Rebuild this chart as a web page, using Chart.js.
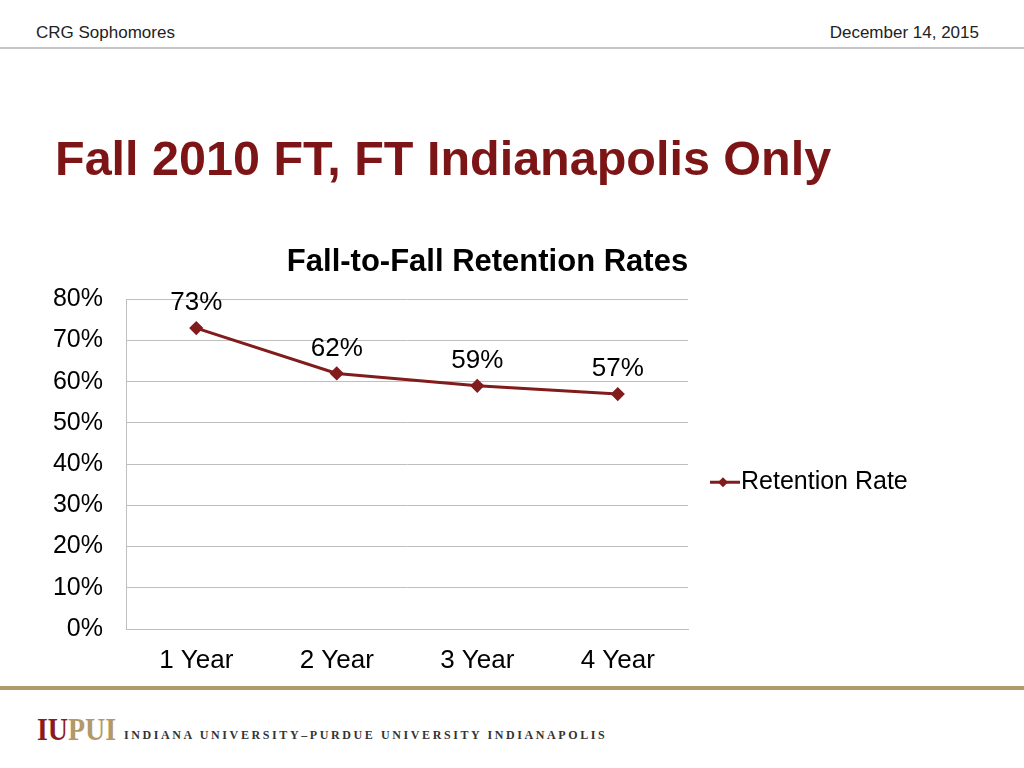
<!DOCTYPE html>
<html>
<head>
<meta charset="utf-8">
<title>Fall 2010 FT, FT Indianapolis Only</title>
<script src="https://cdn.jsdelivr.net/npm/chart.js@4"></script>
<style>
    body { margin: 0; width: 1024px; height: 768px; background: #fff; position: relative; overflow: hidden; font-family: "Liberation Sans", Arial, sans-serif; }
    .hdr { position: absolute; top: 24px; font-size: 17px; line-height: 1; color: #222; }
    .hdr-line { position: absolute; top: 47px; left: 0; width: 1024px; height: 2px; background: #c6c6c6; }
    .slide-title { position: absolute; left: 55px; top: 134px; font-size: 48.5px; line-height: 1; font-weight: bold; color: #7d1517; margin: 0; }
    .chart-box { position: absolute; left: 40px; top: 230px; width: 895px; height: 450px; }
    .foot-line { position: absolute; top: 686px; left: 0; width: 1024px; height: 4px; background: #b39869; }
    .logo { position: absolute; left: 37px; top: 714px; font-family: "Liberation Serif", "Times New Roman", serif; font-size: 31px; font-weight: bold; line-height: 1; transform: scaleX(0.9); transform-origin: left top; white-space: nowrap; }
    .logo .iu { color: #8b1a1a; }
    .logo .pui { color: #b39869; }
    .uni { position: absolute; left: 124px; top: 729px; font-family: "Liberation Serif", "Times New Roman", serif; font-size: 12px; font-weight: bold; line-height: 1; letter-spacing: 2.6px; color: #333; white-space: nowrap; }
</style>
</head>
<body>
<div class="hdr" style="left:36px">CRG Sophomores</div>
<div class="hdr" style="right:45px">December 14, 2015</div>
<div class="hdr-line"></div>
<h1 class="slide-title">Fall 2010 FT, FT Indianapolis Only</h1>
<div class="chart-box"><canvas id="retentionChart" width="895" height="450"></canvas></div>
<div class="foot-line"></div>
<div class="logo"><span class="iu">IU</span><span class="pui">PUI</span></div>
<div class="uni">INDIANA UNIVERSITY–PURDUE UNIVERSITY INDIANAPOLIS</div>

<script>
const categories = ['1 Year', '2 Year', '3 Year', '4 Year'];
const retentionRate = [0.73, 0.62, 0.59, 0.57];
const yTickLabels = ['0%', '10%', '20%', '30%', '40%', '50%', '60%', '70%', '80%'];

const lineColor = '#821b1b';
const fontFamily = '"Liberation Sans", Arial, sans-serif';

// percent labels above each point
const pointLabels = {
    id: 'pointLabels',
    afterDatasetsDraw(chart) {
        const ctx = chart.ctx;
        const meta = chart.getDatasetMeta(0);
        ctx.save();
        ctx.font = '26px ' + fontFamily;
        ctx.fillStyle = '#000';
        ctx.textAlign = 'center';
        ctx.textBaseline = 'middle';
        meta.data.forEach(function(pt, i) {
            ctx.fillText(Math.round(retentionRate[i] * 100) + '%', pt.x, pt.y - 25);
        });
        ctx.restore();
    }
};

// legend on the right as its own layout box, so the title stays centred on the whole canvas
const sideLegend = {
    id: 'sideLegend',
    beforeInit(chart) {
        const box = {
            position: 'right',
            weight: 0,
            fullSize: false,
            options: {},
            isHorizontal() { return false; },
            update(maxWidth, maxHeight) {
                this.width = 247;
                this.height = maxHeight;
            },
            draw() {
                const a = chart.chartArea;
                const ctx = chart.ctx;
                const y = a.top + (a.bottom - a.top) * 0.555;
                const x0 = this.left + 22;
                ctx.save();
                ctx.strokeStyle = lineColor;
                ctx.lineWidth = 3;
                ctx.beginPath();
                ctx.moveTo(x0, y);
                ctx.lineTo(x0 + 30, y);
                ctx.stroke();
                ctx.fillStyle = lineColor;
                ctx.beginPath();
                ctx.moveTo(x0 + 13, y - 5);
                ctx.lineTo(x0 + 18, y);
                ctx.lineTo(x0 + 13, y + 5);
                ctx.lineTo(x0 + 8, y);
                ctx.closePath();
                ctx.fill();
                ctx.font = '25px ' + fontFamily;
                ctx.fillStyle = '#000';
                ctx.textAlign = 'left';
                ctx.textBaseline = 'middle';
                ctx.fillText(chart.data.datasets[0].label, x0 + 31, y);
                ctx.restore();
            }
        };
        Chart.layouts.addBox(chart, box);
    }
};

document.addEventListener('DOMContentLoaded', function() {
    const ctx = document.getElementById('retentionChart').getContext('2d');
    new Chart(ctx, {
        type: 'line',
        data: {
            labels: categories,
            datasets: [{
                label: 'Retention Rate',
                data: retentionRate,
                borderColor: lineColor,
                backgroundColor: lineColor,
                borderWidth: 3,
                pointStyle: 'rectRot',
                pointRadius: 5,
                pointHoverRadius: 5,
                tension: 0,
                fill: false
            }]
        },
        options: {
            responsive: false,
            animation: false,
            devicePixelRatio: 1,
            layout: { padding: 0 },
            plugins: {
                legend: { display: false },
                tooltip: { enabled: false },
                title: {
                    display: true,
                    text: 'Fall-to-Fall Retention Rates',
                    color: '#000',
                    font: { family: fontFamily, size: 31, weight: 'bold' },
                    padding: { top: 14, bottom: 18 }
                }
            },
            scales: {
                x: {
                    offset: true,
                    grid: { display: false, drawTicks: false },
                    border: { color: '#bebebe', width: 1 },
                    ticks: { color: '#000', padding: 16, font: { family: fontFamily, size: 26 } },
                    afterFit: function(scale) { scale.height = 51; }
                },
                y: {
                    min: 0,
                    max: 0.8,
                    grid: { color: '#bebebe', lineWidth: 1, drawTicks: false },
                    border: { color: '#bebebe', width: 1 },
                    ticks: {
                        stepSize: 0.1,
                        color: '#000',
                        padding: 23,
                        font: { family: fontFamily, size: 25 },
                        callback: function(value) { return yTickLabels[Math.round(value * 10)]; }
                    },
                    afterFit: function(scale) { scale.width = 86; }
                }
            }
        },
        plugins: [pointLabels, sideLegend]
    });
});
</script>
</body>
</html>
